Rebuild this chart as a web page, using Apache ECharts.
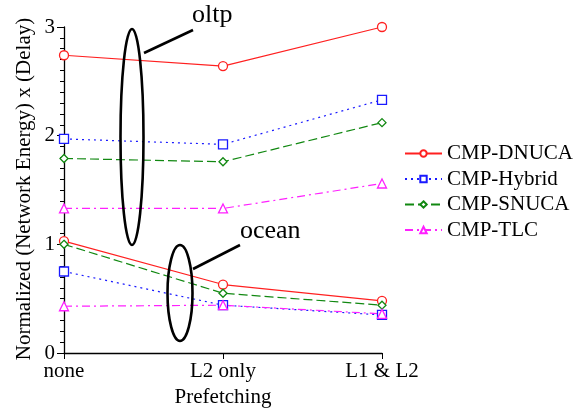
<!DOCTYPE html>
<html>
<head>
<meta charset="utf-8">
<script src="https://cdn.jsdelivr.net/npm/echarts@6/dist/echarts.min.js"></script>
<style>
  html, body { margin: 0; padding: 0; background: #fff; }
  #chart { width: 587px; height: 408px; }
</style>
</head>
<body>
<div id="chart"></div>
<script>
const categories = ['none', 'L2 only', 'L1 & L2'];
const seriesNames = ['CMP-DNUCA', 'CMP-Hybrid', 'CMP-SNUCA', 'CMP-TLC'];
const yTitle = 'Normalized (Network Energy) x (Delay)';

// oltp workload
const oltpDNUCA = [2.74, 2.64, 3.00];
const oltpHybrid = [1.97, 1.92, 2.33];
const oltpSNUCA = [1.79, 1.76, 2.12];
const oltpTLC = [1.33, 1.33, 1.56];

// ocean workload
const oceanDNUCA = [1.03, 0.63, 0.48];
const oceanHybrid = [0.75, 0.44, 0.35];
const oceanSNUCA = [1.00, 0.55, 0.44];
const oceanTLC = [0.43, 0.44, 0.36];

const font = 'Liberation Serif';

const styles = {
  'CMP-DNUCA': {color: '#ff2020', type: 'solid', symbol: 'circle', size: 9},
  'CMP-Hybrid': {color: '#1a1aff', type: [2, 4], symbol: 'rect', size: 9},
  'CMP-SNUCA': {color: '#118811', type: [9, 4], symbol: 'diamond', size: 8},
  'CMP-TLC': {color: '#ff20ff', type: [8, 4, 2, 4], symbol: 'triangle', size: 9}
};

function mkSeries(name, data) {
  let s = styles[name];
  return {
    name,
    type: 'line',
    data,
    symbol: s.symbol,
    symbolSize: s.size,
    showSymbol: true,
    color: s.color,
    itemStyle: {color: '#fff', borderColor: s.color, borderWidth: 1.3},
    lineStyle: {color: s.color, width: 1.2, type: s.type},
    animation: false
  };
}

const chart = echarts.init(document.getElementById('chart'));

chart.setOption({
  animation: false,
  textStyle: {fontFamily: font, color: '#000'},
  grid: {left: 64, top: 27, right: 205, bottom: 55, outerBoundsMode: 'none', containLabel: false},
  legend: {
    data: seriesNames,
    orient: 'vertical',
    left: 399,
    top: 138,
    itemWidth: 37,
    itemHeight: 8,
    itemGap: 4.5,
    textStyle: {fontFamily: font, fontSize: 21, color: '#000'},
    selectedMode: false
  },
  xAxis: {
    type: 'category',
    data: categories,
    boundaryGap: false,
    name: 'Prefetching',
    nameLocation: 'middle',
    nameGap: 34,
    nameTextStyle: {fontFamily: font, fontSize: 21, color: '#000'},
    axisLine: {lineStyle: {color: '#000', width: 1.3}},
    axisTick: {show: true, alignWithLabel: true, length: 6, lineStyle: {color: '#000'}},
    axisLabel: {fontFamily: font, fontSize: 21, color: '#000', margin: 8},
    splitLine: {show: false}
  },
  yAxis: {
    type: 'value',
    min: 0,
    max: 3,
    interval: 1,
    axisLine: {show: true, lineStyle: {color: '#000', width: 1.3}},
    axisTick: {show: true, length: 7, lineStyle: {color: '#000'}},
    minorTick: {show: true, splitNumber: 10, length: 4, lineStyle: {color: '#000'}},
    axisLabel: {fontFamily: font, fontSize: 21, color: '#000', margin: 9},
    splitLine: {show: false}
  },
  series: [
    mkSeries('CMP-DNUCA', oltpDNUCA),
    mkSeries('CMP-Hybrid', oltpHybrid),
    mkSeries('CMP-SNUCA', oltpSNUCA),
    mkSeries('CMP-TLC', oltpTLC),
    mkSeries('CMP-DNUCA', oceanDNUCA),
    mkSeries('CMP-Hybrid', oceanHybrid),
    mkSeries('CMP-SNUCA', oceanSNUCA),
    mkSeries('CMP-TLC', oceanTLC)
  ],
  graphic: [
    // y axis title
    {type: 'text', x: 24, y: 189, rotation: Math.PI / 2,
     style: {text: yTitle, font: '21px "Liberation Serif"', fill: '#000', align: 'center', verticalAlign: 'middle'}},
    // annotations
    {type: 'ellipse', shape: {cx: 132, cy: 137, rx: 11.5, ry: 108}, style: {fill: null, stroke: '#000', lineWidth: 2.6}, z: 100},
    {type: 'line', shape: {x1: 144, y1: 53, x2: 193, y2: 30}, style: {stroke: '#000', lineWidth: 2.6}, z: 100},
    {type: 'text', left: 192, top: 2, style: {text: 'oltp', font: '26px "Liberation Serif"', fill: '#000'}, z: 100},
    {type: 'ellipse', shape: {cx: 180, cy: 293, rx: 12.5, ry: 48}, style: {fill: null, stroke: '#000', lineWidth: 2.6}, z: 100},
    {type: 'line', shape: {x1: 193, y1: 269, x2: 240, y2: 245}, style: {stroke: '#000', lineWidth: 2.6}, z: 100},
    {type: 'text', left: 240, top: 218, style: {text: 'ocean', font: '26px "Liberation Serif"', fill: '#000'}, z: 100}
  ]
});
</script>
</body>
</html>
